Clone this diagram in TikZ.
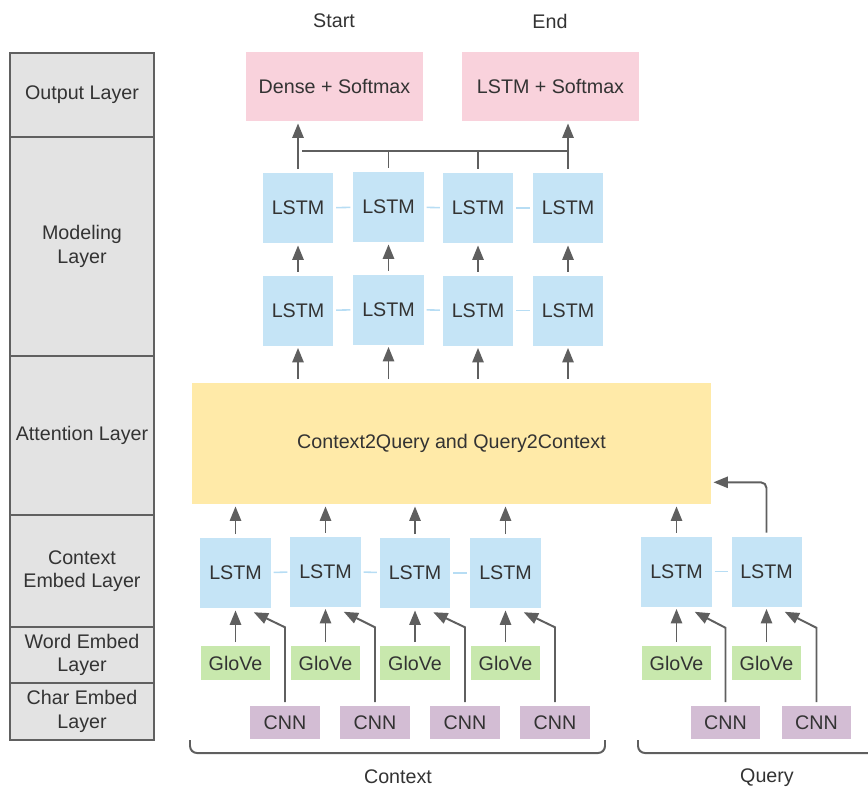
\documentclass[tikz,border=0pt]{standalone}
\usepackage{fontspec}
\setmainfont{Liberation Sans}
\usepackage{xcolor}
\usepackage{tikz}
\usetikzlibrary{calc}
\usetikzlibrary{positioning}
\usetikzlibrary{arrows.meta}
\definecolor{lstmblue}{HTML}{C5E4F6}
\definecolor{linkblue}{HTML}{B7DDF4}
\definecolor{glovegreen}{HTML}{C8E8AD}
\definecolor{cnnpurple}{HTML}{D3BDD4}
\definecolor{outpink}{HTML}{F9D2DC}
\definecolor{attyellow}{HTML}{FFEAA8}
\definecolor{layergray}{HTML}{E3E3E3}
\definecolor{layerborder}{HTML}{606060}
\definecolor{arrowgray}{HTML}{5F5F5F}
\definecolor{textgray}{HTML}{333333}
\newcommand{\diagfont}{\fontsize{14}{16.8}\selectfont}
\tikzset{
  myarrow/.style={
    draw=arrowgray,
    line width=1.4pt,
    -{Triangle[length=0.36cm,width=0.28cm]},
    shorten <=2.5pt,
    shorten >=1.5pt,
  },
  myline/.style={
    draw=arrowgray,
    line width=1.4pt,
    shorten <=3pt,
  },
  mylink/.style={
    draw=linkblue,
    line width=1.1pt,
    shorten <=2pt,
    shorten >=2pt,
  },
  mybracket/.style={
    draw=arrowgray,
    line width=1.4pt,
    rounded corners=5pt,
  },
  mybox/.style={
    shape=rectangle,
    align=center,
    inner sep=0pt,
    text=textgray,
    font=\diagfont
  },
  mylstm/.style={
    mybox,
    fill=lstmblue,
    minimum width=1.75cm,
    minimum height=1.75cm,
  },
  myglove/.style={
    mybox,
    fill=glovegreen,
    minimum width=1.725cm,
    minimum height=0.85cm,
  },
  mycnn/.style={
    mybox,
    fill=cnnpurple,
    minimum width=1.725cm,
    minimum height=0.83cm,
  },
  myoutput/.style={
    mybox,
    fill=outpink,
    minimum width=4.425cm,
    minimum height=1.725cm,
  },
  myattention/.style={
    mybox,
    fill=attyellow,
    minimum width=12.975cm,
    minimum height=3.025cm,
  },
  mylayer/.style={
    mybox,
    draw=layerborder,
    fill=layergray,
    line width=1.6pt,
    minimum width=3.6cm,
  },
  mylabel/.style={
    mybox,
  },
}

\begin{document}
\begin{tikzpicture}[x=0.025cm, y=-0.025cm]
    \useasboundingbox (0, 0) rectangle (868, 792);

    % layer column
    \node [mylayer, minimum height=2.1cm] (Lout) at (82, 95) {Output Layer};
    \node [mylayer, minimum height=5.475cm] (Lmod) at (82, 246.5) {Modeling\\Layer};
    \node [mylayer, minimum height=3.975cm] (Latt) at (82, 435.5) {Attention Layer};
    \node [mylayer, minimum height=2.8cm] (Lctx) at (82, 571) {Context\\Embed Layer};
    \node [mylayer, minimum height=1.4cm] (Lword) at (82, 655) {Word Embed\\Layer};
    \node [mylayer, minimum height=1.425cm] (Lchar) at (82, 711.5) {Char Embed\\Layer};

    % output layer
    \node [mylabel] (start) at (334, 21) {Start};
    \node [mylabel] (end) at (550, 21) {End};
    \node [myoutput] (dense) at (334.5, 86.5) {Dense + Softmax};
    \node [myoutput] (lsmax) at (550.5, 86.5) {LSTM + Softmax};

    % modeling layer
    \node [mylstm] (M1) at (298, 208) {LSTM};
    \node [mylstm] (M2) at (388.5, 207) {LSTM};
    \node [mylstm] (M3) at (478, 208) {LSTM};
    \node [mylstm] (M4) at (568, 208) {LSTM};
    \node [mylstm] (M5) at (298, 310.5) {LSTM};
    \node [mylstm] (M6) at (388.5, 309.5) {LSTM};
    \node [mylstm] (M7) at (478, 310.5) {LSTM};
    \node [mylstm] (M8) at (568, 310.5) {LSTM};
    \draw [mylink] (M1) -- (M2);
    \draw [mylink] (M2) -- (M3);
    \draw [mylink] (M3) -- (M4);
    \draw [mylink] (M5) -- (M6);
    \draw [mylink] (M6) -- (M7);
    \draw [mylink] (M7) -- (M8);

    \coordinate (bus) at (298, 151);
    \draw [myarrow] (M1.north) -- (M1.north |- dense.south);
    \draw [myarrow] (M4.north) -- (M4.north |- lsmax.south);
    \draw [myline] (M1.north |- bus) -- (M4.north |- bus);
    \draw [myline] (M2.north) -- (M2.north |- bus);
    \draw [myline] (M3.north) -- (M3.north |- bus);
    \draw [myarrow] (M5) -- (M1);
    \draw [myarrow] (M6) -- (M2);
    \draw [myarrow] (M7) -- (M3);
    \draw [myarrow] (M8) -- (M4);

    % attention layer
    \node [myattention] (att) at (451.5, 443.5) {Context2Query and Query2Context};
    \draw [myarrow] (att.north -| M5) -- (M5.south);
    \draw [myarrow] (att.north -| M6) -- (M6.south);
    \draw [myarrow] (att.north -| M7) -- (M7.south);
    \draw [myarrow] (att.north -| M8) -- (M8.south);

    % context
    \node [mylstm] (C1) at (235.5, 573) {LSTM};
    \node [mylstm] (C2) at (325.5, 571.5) {LSTM};
    \node [mylstm] (C3) at (415, 573) {LSTM};
    \node [mylstm] (C4) at (505.5, 573) {LSTM};
    \draw [mylink] (C1) -- (C2);
    \draw [mylink] (C2) -- (C3);
    \draw [mylink] (C3) -- (C4);
    \node [myglove] (G1) at (235.5, 663) {GloVe};
    \node [myglove] (G2) at (325.5, 663) {GloVe};
    \node [myglove] (G3) at (415, 663) {GloVe};
    \node [myglove] (G4) at (505.5, 663) {GloVe};
    \node [mycnn] (N1) at (285, 722.5) {CNN};
    \node [mycnn] (N2) at (375, 722.5) {CNN};
    \node [mycnn] (N3) at (465, 722.5) {CNN};
    \node [mycnn] (N4) at (555, 722.5) {CNN};

    \draw [myarrow] (C1.north) -- (C1.north |- att.south);
    \draw [myarrow] (C2.north) -- (C2.north |- att.south);
    \draw [myarrow] (C3.north) -- (C3.north |- att.south);
    \draw [myarrow] (C4.north) -- (C4.north |- att.south);
    \draw [myarrow] (G1) -- (C1);
    \draw [myarrow] (G2) -- (C2);
    \draw [myarrow] (G3) -- (C3);
    \draw [myarrow] (G4) -- (C4);
    \draw [myarrow] (N1.north) -- ($(N1.north |- C1.south)+(0, 19)$) -- ($(C1.south east)+(-19, 3)$);
    \draw [myarrow] (N2.north) -- ($(N2.north |- C1.south)+(0, 19)$) -- ($(C2.south east)+(-19, 4)$);
    \draw [myarrow] (N3.north) -- ($(N3.north |- C1.south)+(0, 19)$) -- ($(C3.south east)+(-19, 3)$);
    \draw [myarrow] (N4.north) -- ($(N4.north |- C1.south)+(0, 19)$) -- ($(C4.south east)+(-19, 3)$);

    % query
    \node [mylstm] (Q1) at (676.5, 571.5) {LSTM};
    \node [mylstm] (Q2) at (766.5, 571.5) {LSTM};
    \draw [mylink] (Q1) -- (Q2);
    \node [myglove] (QG1) at (676.5, 663) {GloVe};
    \node [myglove] (QG2) at (766.5, 663) {GloVe};
    \node [mycnn] (QN1) at (725.5, 722.5) {CNN};
    \node [mycnn] (QN2) at (816.5, 722.5) {CNN};

    \draw [myarrow] (Q1.north) -- (Q1.north |- att.south);
    \draw [myarrow, rounded corners=4pt] (Q2.north) |- ($(att.south east)+(0, -22)$);
    \draw [myarrow] (QG1) -- (Q1);
    \draw [myarrow] (QG2) -- (Q2);
    \draw [myarrow] (QN1.north) -- ($(QN1.north |- Q1.south)+(0, 21)$) -- ($(Q1.south east)+(-19, 4)$);
    \draw [myarrow] (QN2.north) -- ($(QN2.north |- Q1.south)+(0, 21)$) -- ($(Q2.south east)+(-19, 4)$);

    % brackets
    \draw [mybracket] (190, 740) -- (190, 753) -- (605, 753) -- (605, 740);
    \node [mylabel] (ctx) at (398, 777) {Context};
    \draw [mybracket] (638, 740) -- (638, 753) -- (868, 753);
    \node [mylabel] (qry) at (767, 778) {Query};

  \end{tikzpicture}
\end{document}
